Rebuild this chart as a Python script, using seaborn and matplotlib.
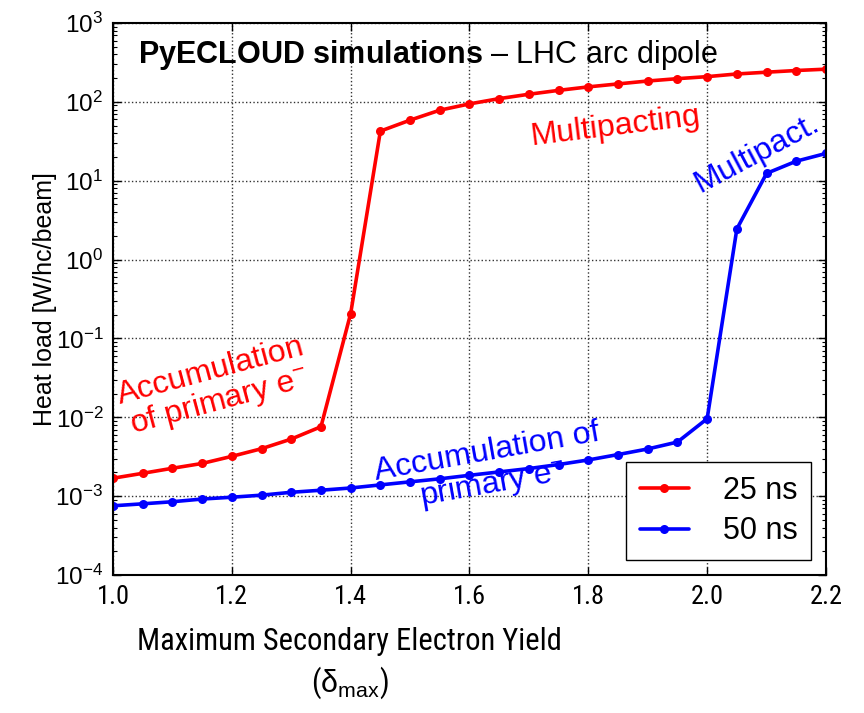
import numpy as np
import pandas as pd
import matplotlib
matplotlib.use("Agg")
import matplotlib.pyplot as plt
import seaborn as sns
from matplotlib import font_manager
from matplotlib.font_manager import FontProperties
from matplotlib.ticker import LogLocator, NullFormatter, FixedLocator

# ---- data ----
sey = [1.00, 1.05, 1.10, 1.15, 1.20, 1.25, 1.30, 1.35, 1.40, 1.45, 1.50, 1.55, 1.60,
       1.65, 1.70, 1.75, 1.80, 1.85, 1.90, 1.95, 2.00, 2.05, 2.10, 2.15, 2.20]
heat_25ns = [1.69e-3, 1.95e-3, 2.26e-3, 2.6e-3, 3.2e-3, 4.0e-3, 5.3e-3, 7.6e-3, 0.207,
             42.6, 58.7, 78.5, 94.3, 110, 125, 140, 155, 169, 184, 197, 209, 226, 238, 250, 260]
heat_50ns = [7.55e-4, 8.0e-4, 8.5e-4, 9.2e-4, 9.7e-4, 1.03e-3, 1.12e-3, 1.19e-3, 1.27e-3,
             1.39e-3, 1.52e-3, 1.66e-3, 1.84e-3, 2.03e-3, 2.24e-3, 2.52e-3, 2.88e-3, 3.37e-3,
             3.97e-3, 4.86e-3, 9.6e-3, 2.45, 12.4, 17.7, 22.2]
series_labels = ["25 ns", "50 ns"]
x_ticks = [1.0, 1.2, 1.4, 1.6, 1.8, 2.0, 2.2]

sns.set_style("white")
plt.rcParams['font.family'] = ['Liberation Sans', 'DejaVu Sans']
plt.rcParams['mathtext.fontset'] = 'custom'
plt.rcParams['mathtext.rm'] = 'Liberation Sans'
plt.rcParams['mathtext.it'] = 'Liberation Sans:italic'
plt.rcParams['mathtext.bf'] = 'Liberation Sans:bold'
for k in ['text.color', 'axes.labelcolor', 'xtick.color', 'ytick.color']:
    plt.rcParams[k] = 'black'

# look for a narrow / condensed sans font (reference uses a condensed face on the x axis)
narrow_fp = None
pref = ['Liberation Sans Narrow', 'Arial Narrow', 'DejaVu Sans Condensed',
        'Roboto Condensed', 'Open Sans Condensed', 'Noto Sans Condensed']
cands = []
for f in font_manager.fontManager.ttflist:
    nm = f.name
    is_narrow = ('Narrow' in nm or 'Condensed' in nm or
                 str(f.stretch) in ('condensed', 'semi-condensed', 'extra-condensed') or
                 'Condensed' in f.fname or 'Narrow' in f.fname)
    if not is_narrow or f.style != 'normal':
        continue
    w = f.weight if isinstance(f.weight, int) else {'normal': 400, 'regular': 400, 'book': 400}.get(str(f.weight), 700)
    if w != 400:
        continue
    if 'Serif' in nm or 'Mono' in nm:
        continue
    rank = next((i for i, p in enumerate(pref) if p.lower() in (nm + ' ' + f.fname).lower().replace('-', ' ')), len(pref))
    cands.append((rank, f.fname))
if cands:
    cands.sort()
    narrow_fp = FontProperties(fname=cands[0][1])

fig = plt.figure(figsize=(8.64, 7.13), dpi=100)
ax = fig.add_axes([0.1308, 0.1935, 0.956 - 0.1308, 0.9677 - 0.1935])

df = pd.DataFrame({"sey": sey * 2,
                   "heat": heat_25ns + heat_50ns,
                   "beam": [series_labels[0]] * len(sey) + [series_labels[1]] * len(sey)})

sns.lineplot(data=df, x="sey", y="heat", hue="beam",
             palette={series_labels[0]: "#ff0000", series_labels[1]: "#0000ff"},
             marker="o", markersize=6.5, markeredgewidth=0, linewidth=2.6, ax=ax)

ax.set_yscale("log")
ax.set_xlim(1.0, 2.2)
ax.set_ylim(1e-4, 1e3)
ax.xaxis.set_major_locator(FixedLocator(x_ticks))
xtl = ax.set_xticklabels([f"{v:.1f}" for v in x_ticks])
ax.yaxis.set_major_locator(LogLocator(base=10, numticks=20))
ax.yaxis.set_minor_locator(LogLocator(base=10, subs=np.arange(2, 10), numticks=20))
ax.yaxis.set_minor_formatter(NullFormatter())

ax.tick_params(which="both", direction="in", top=True, right=True, left=True, bottom=True)
ax.tick_params(which="major", length=6, width=1, pad=7)
ax.tick_params(axis="y", which="major", labelsize=17.5)
ax.tick_params(which="minor", length=3, width=0.8)
for s in ax.spines.values():
    s.set_color("black")
    s.set_linewidth(1.5)

ax.grid(True, which="major", linestyle=":", color="0.2", linewidth=1.0)

ax.set_ylabel("Heat load [W/hc/beam]", fontsize=18)
ax.yaxis.set_label_coords(-0.078, 0.5)

xl = ax.set_xlabel("Maximum Secondary Electron Yield\n" + r"($\mathrm{\delta}_{\mathrm{max}}$)",
                   linespacing=1.3)
ax.xaxis.set_label_coords(0.332, -0.095)
if narrow_fp is not None:
    for t in xtl:
        t.set_fontproperties(narrow_fp)
        t.set_fontsize(19)
    xl.set_fontproperties(narrow_fp)
    xl.set_fontsize(22)
else:
    for t in xtl:
        t.set_fontsize(17)
    xl.set_fontsize(19.5)

ax.text(0.035, 0.973, r"$\mathbf{PyECLOUD\ simulations}$" + " \u2013 LHC arc dipole",
        transform=ax.transAxes, fontsize=22, va="top", ha="left")

ann_fs = 23
ax.text(1.846, 48, "Multipacting", color="#ff0000", fontsize=ann_fs, rotation=7,
        ha="center", va="center")
ax.text(1.172, 2.4e-2, "Accumulation\nof primary e$^{-}$", color="#ff0000", fontsize=ann_fs,
        rotation=15, ha="center", va="center", linespacing=1.0)
ax.text(2.084, 22, "Multipact.", color="#0000ff", fontsize=ann_fs, rotation=28,
        ha="center", va="center")
ax.text(1.634, 2.2e-3, "Accumulation of\nprimary e$^{-}$", color="#0000ff", fontsize=ann_fs,
        rotation=10, ha="center", va="center", linespacing=1.0)

leg = ax.legend(loc="lower right", fontsize=22, frameon=True, fancybox=False,
                edgecolor="black", framealpha=1, borderpad=0.45, handlelength=1.6,
                handletextpad=1.1, labelspacing=0.35, borderaxespad=0,
                bbox_to_anchor=(0.979, 0.027))
leg.get_frame().set_linewidth(1.0)

fig.savefig("out.png", dpi=100)
